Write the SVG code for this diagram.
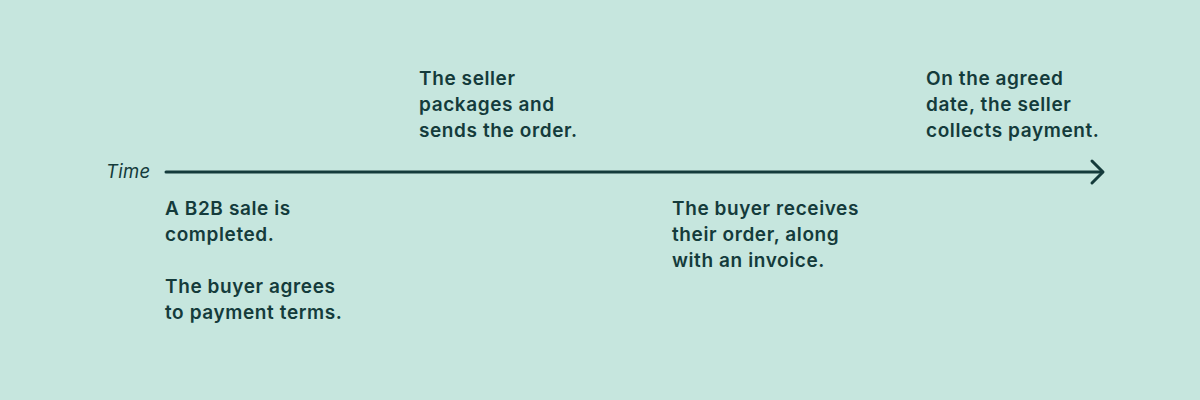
<svg xmlns="http://www.w3.org/2000/svg" width="1200" height="400" viewBox="0 0 1200 400">
<style>
.t{font-family:Inter,"Noto Sans",sans-serif;font-weight:600;font-size:19px;letter-spacing:0.6px;fill:#143b3b}
.i{font-family:Inter,"Noto Sans",sans-serif;font-style:italic;font-size:18.5px;letter-spacing:0.3px;fill:#143b3b}
.ln{stroke:#143b3b;stroke-width:3;fill:none;stroke-linecap:round;stroke-linejoin:round}
</style>
<rect width="1200" height="400" fill="#c6e6de"/>
<g id="connectors">
<path class="ln" d="M166,172 H1102"/>
<path class="ln" d="M1092,161 L1103,172 L1092,183"/>
</g>
<g id="axis-label"><text class="i" x="106" y="178">Time</text></g>
<g id="node-sale">
<text class="t" x="165" y="215">A B2B sale is</text>
<text class="t" x="165" y="241">completed.</text>
<text class="t" x="165" y="293">The buyer agrees</text>
<text class="t" x="165" y="319">to payment terms.</text>
</g>
<g id="node-ship">
<text class="t" x="419" y="85">The seller</text>
<text class="t" x="419" y="111">packages and</text>
<text class="t" x="419" y="137">sends the order.</text>
</g>
<g id="node-receive">
<text class="t" x="672" y="215">The buyer receives</text>
<text class="t" x="672" y="241">their order, along</text>
<text class="t" x="672" y="267">with an invoice.</text>
</g>
<g id="node-pay">
<text class="t" x="926" y="85">On the agreed</text>
<text class="t" x="926" y="111">date, the seller</text>
<text class="t" x="926" y="137">collects payment.</text>
</g>
</svg>
